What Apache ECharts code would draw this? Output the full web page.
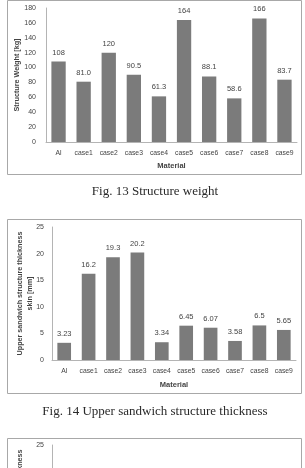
<!DOCTYPE html>
<html>
<head>
<meta charset="utf-8">
<script src="https://cdn.jsdelivr.net/npm/echarts@6/dist/echarts.min.js"></script>
<style>
html,body{margin:0;padding:0;background:#fff;overflow:hidden;}
#c{width:305px;height:468px;}
</style>
</head>
<body>
<div id="c"></div>
<script>
var categories = ['Al','case1','case2','case3','case4','case5','case6','case7','case8','case9'];
var structureWeight = [108, 81.0, 120, 90.5, 61.3, 164, 88.1, 58.6, 166, 83.7];
var upperThickness = [3.23, 16.2, 19.3, 20.2, 3.34, 6.45, 6.07, 3.58, 6.5, 5.65];
var weightTicks = {min: 0, max: 180, interval: 20};
var thickTicks = {min: 0, max: 25, interval: 5};
var caption1 = 'Fig. 13 Structure weight';
var caption2 = 'Fig. 14 Upper sandwich structure thickness';
var yName1 = 'Structure Weight [kg]';
var yName2 = 'Upper sandwich structure thickness\nskin [mm]';
var yName3 = 'Lower sandwich structure thickness\nskin [mm]';
var xName = 'Material';

var FONT = 'Liberation Sans';
var TXT = '#444';
var AXIS = '#b4b4b4';
var BAR = '#7b7b7b';

function xAxisCfg(gi, gap) {
  return {
    type: 'category', gridIndex: gi, data: categories,
    name: xName, nameLocation: 'middle', nameGap: gap, nameMoveOverlap: false,
    nameTextStyle: {fontFamily: FONT, fontSize: 7.5, fontWeight: 'bold', color: TXT},
    axisLine: {lineStyle: {color: AXIS, width: 1}},
    axisTick: {show: false},
    axisLabel: {fontFamily: FONT, fontSize: 6.8, color: TXT, margin: 8, interval: 0}
  };
}
function yAxisCfg(gi, t, name, gap, margin) {
  return {
    type: 'value', gridIndex: gi, min: t.min, max: t.max, interval: t.interval,
    name: name, nameLocation: 'middle', nameGap: gap, nameMoveOverlap: false,
    nameTextStyle: {fontFamily: FONT, fontSize: 7.2, fontWeight: 'bold', color: TXT, lineHeight: 10},
    axisLine: {show: true, lineStyle: {color: AXIS, width: 1}},
    axisTick: {show: false},
    splitLine: {show: false},
    axisLabel: {fontFamily: FONT, fontSize: 7, color: TXT, margin: margin}
  };
}

var chart = echarts.init(document.getElementById('c'), null, {renderer: 'canvas'});
chart.setOption({
  animation: false,
  backgroundColor: '#fff',
  grid: [
    {left: 46, top: 8, width: 251, height: 134, outerBoundsMode: 'none', containLabel: false},
    {left: 52, top: 227, width: 244, height: 133, outerBoundsMode: 'none', containLabel: false},
    {left: 52, top: 445, width: 244, height: 133, outerBoundsMode: 'none', containLabel: false}
  ],
  xAxis: [xAxisCfg(0, 20), xAxisCfg(1, 21), xAxisCfg(2, 21)],
  yAxis: [
    yAxisCfg(0, weightTicks, yName1, 24, 10),
    yAxisCfg(1, thickTicks, yName2, 17, 8),
    yAxisCfg(2, thickTicks, yName3, 17, 8)
  ],
  series: [
    {
      type: 'bar', xAxisIndex: 0, yAxisIndex: 0, data: structureWeight,
      barCategoryGap: '43%',
      itemStyle: {color: BAR},
      label: {show: true, position: 'top', distance: 5, fontFamily: FONT, fontSize: 7.5, color: TXT,
        formatter: function (p) { return Number(p.value).toPrecision(3); }}
    },
    {
      type: 'bar', xAxisIndex: 1, yAxisIndex: 1, data: upperThickness,
      barCategoryGap: '44%',
      itemStyle: {color: BAR},
      label: {show: true, position: 'top', distance: 5, fontFamily: FONT, fontSize: 7.5, color: TXT,
        formatter: function (p) { return String(p.value); }}
    }
  ],
  graphic: [
    {type: 'rect', silent: true, z: -1, shape: {x: 7.5, y: 0.5, width: 294, height: 174}, style: {fill: 'none', stroke: '#a8a8a8', lineWidth: 1}},
    {type: 'rect', silent: true, z: -1, shape: {x: 7.5, y: 219.5, width: 294, height: 174}, style: {fill: 'none', stroke: '#a8a8a8', lineWidth: 1}},
    {type: 'rect', silent: true, z: -1, shape: {x: 7.5, y: 438.5, width: 294, height: 174}, style: {fill: 'none', stroke: '#a8a8a8', lineWidth: 1}},
    {type: 'text', silent: true, x: 155, y: 192, style: {text: caption1, fontFamily: 'Liberation Serif', fontSize: 13, fill: '#2a2a2a', align: 'center', verticalAlign: 'middle'}},
    {type: 'text', silent: true, x: 155, y: 412, style: {text: caption2, fontFamily: 'Liberation Serif', fontSize: 13, fill: '#2a2a2a', align: 'center', verticalAlign: 'middle'}}
  ]
});
</script>
</body>
</html>
